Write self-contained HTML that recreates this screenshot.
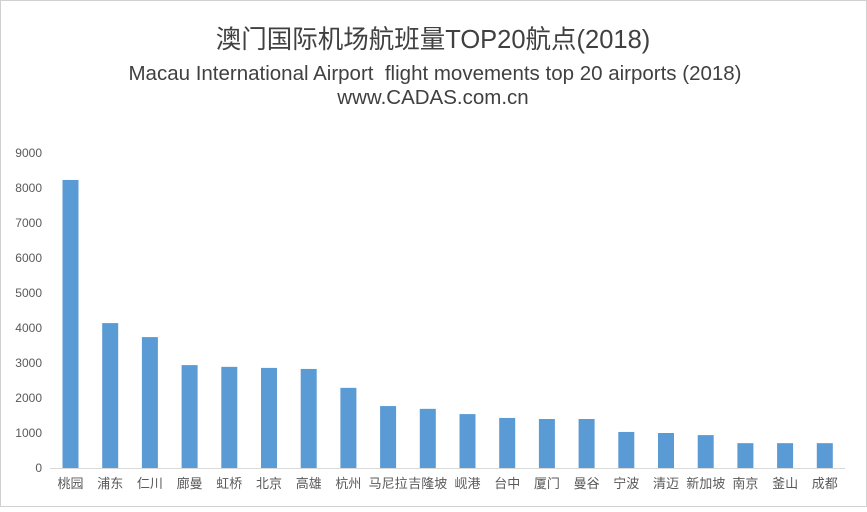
<!DOCTYPE html>
<html><head><meta charset="utf-8"><style>
body{margin:0;background:#fff}
svg text{font-family:"Liberation Sans","Noto Sans CJK SC",sans-serif}
</style></head><body>
<svg width="867" height="507" xmlns="http://www.w3.org/2000/svg">
<rect x="0.5" y="0.5" width="866" height="506" fill="#fff" stroke="#d0d0d0"/>
<text x="433" y="48" text-anchor="middle" font-size="25.5" fill="#404040">澳门国际机场航班量TOP20航点(2018)</text>
<text x="435" y="80" text-anchor="middle" font-size="20.5" fill="#404040">Macau International Airport&#160; flight movements top 20 airports (2018)</text>
<text x="433" y="104" text-anchor="middle" font-size="20.5" fill="#404040">www.CADAS.com.cn</text>
<g font-size="12" fill="#595959" text-anchor="end">
<text x="42" y="472">0</text><text x="42" y="437">1000</text><text x="42" y="402">2000</text><text x="42" y="367">3000</text><text x="42" y="332">4000</text><text x="42" y="297">5000</text><text x="42" y="262">6000</text><text x="42" y="227">7000</text><text x="42" y="192">8000</text><text x="42" y="157">9000</text>
</g>
<line x1="50" y1="468.5" x2="845" y2="468.5" stroke="#d9d9d9"/>
<g fill="#5b9bd5" id="bars"></g>
<g font-size="13" fill="#595959" text-anchor="middle" id="labs"></g>
<script>
var v=[8230,4140,3740,2940,2890,2860,2830,2290,1770,1690,1540,1430,1400,1400,1030,1000,940,710,710,710];
var n=["桃园","浦东","仁川","廊曼","虹桥","北京","高雄","杭州","马尼拉","吉隆坡","岘港","台中","厦门","曼谷","宁波","清迈","新加坡","南京","釜山","成都"];
var b=document.getElementById("bars"),l=document.getElementById("labs"),ns="http://www.w3.org/2000/svg";
for(var i=0;i<20;i++){var c=70.5+i*39.7,h=v[i]*0.035;
var r=document.createElementNS(ns,"rect");r.setAttribute("x",c-8);r.setAttribute("y",468-h);r.setAttribute("width",16);r.setAttribute("height",h);b.appendChild(r);
var t=document.createElementNS(ns,"text");t.setAttribute("x",c);t.setAttribute("y",488);t.textContent=n[i];l.appendChild(t);}
</script>
</svg>
</body></html>
